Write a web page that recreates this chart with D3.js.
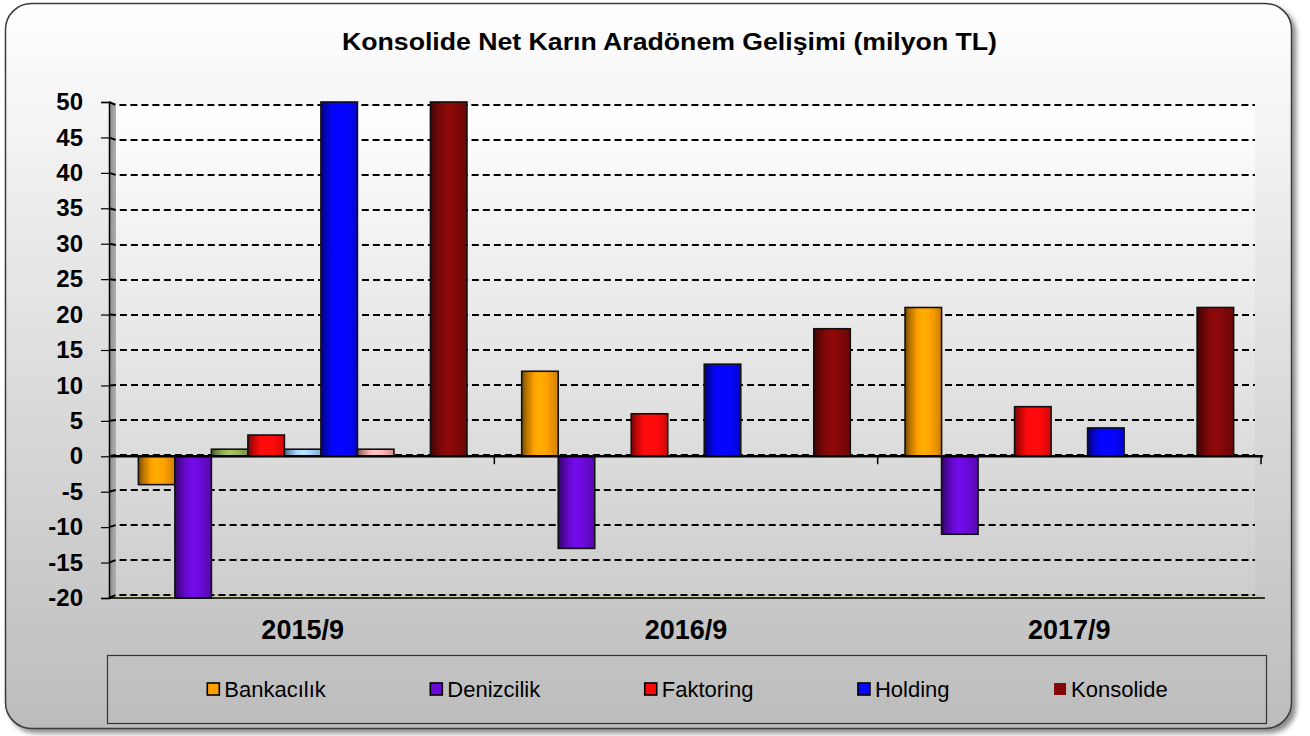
<!DOCTYPE html>
<html><head><meta charset="utf-8">
<script src="https://cdn.jsdelivr.net/npm/d3@7"></script>
<style>body{margin:0;background:#fff}svg{display:block}text{font-family:"Liberation Sans",Arial,sans-serif;fill:#000}</style>
</head><body><svg id="c" width="1310" height="736"></svg>
<script>
const categories = ["2015/9", "2016/9", "2017/9"];
const seriesNames = ["Bankacılık", "Denizcilik", "Seri 3", "Faktoring", "Seri 5", "Holding", "Seri 7", "Seri 8", "Konsolide"];
const bankacilik = [-4, 12, 21];
const denizcilik = [-20, -13, -11];
const seri3 = [1, null, null];
const faktoring = [3, 6, 7];
const seri5 = [1, null, null];
const holding = [50, 13, 4];
const seri7 = [1, null, null];
const seri8 = [null, null, null];
const konsolide = [50, 18, 21];
const seriesColors = ["#ffa000", "#6a0ad8", "#98b854", "#ff0a0a", "#a8d4ff", "#0505ff", "#ffb4b4", "#cccccc", "#840808"];
const legendSeries = ["Bankacılık", "Denizcilik", "Faktoring", "Holding", "Konsolide"];
const yTicks = [-20, -15, -10, -5, 0, 5, 10, 15, 20, 25, 30, 35, 40, 45, 50];
const chartTitle = "Konsolide Net Karın Aradönem Gelişimi (milyon TL)";

const seriesValues = [bankacilik, denizcilik, seri3, faktoring, seri5, holding, seri7, seri8, konsolide];

const svg = d3.select("#c");
const defs = svg.append("defs");

const bg = defs.append("linearGradient").attr("id", "bg").attr("x1", 0).attr("y1", 0).attr("x2", 0).attr("y2", 1);
bg.append("stop").attr("offset", "0%").attr("stop-color", "#ffffff");
bg.append("stop").attr("offset", "100%").attr("stop-color", "#bcbcbc");
const wall = defs.append("linearGradient").attr("id", "wall").attr("gradientUnits", "userSpaceOnUse")
  .attr("x1", 0).attr("y1", 102).attr("x2", 0).attr("y2", 598);
wall.append("stop").attr("offset", "0%").attr("stop-color", "#ffffff");
wall.append("stop").attr("offset", "100%").attr("stop-color", "#cdcdcd");
const lw = defs.append("linearGradient").attr("id", "lwall").attr("x1", 0).attr("y1", 0).attr("x2", 1).attr("y2", 0);
lw.append("stop").attr("offset", "0%").attr("stop-color", "#8a8a8a");
lw.append("stop").attr("offset", "100%").attr("stop-color", "#b0b0b0");

const sh = defs.append("filter").attr("id", "shadow").attr("x", "-5%").attr("y", "-5%").attr("width", "110%").attr("height", "110%");
sh.append("feDropShadow").attr("dx", 4).attr("dy", 4).attr("stdDeviation", 2.5).attr("flood-color", "#000").attr("flood-opacity", 0.45);

seriesColors.forEach((c, i) => {
  const g = defs.append("linearGradient").attr("id", "bar" + i).attr("x1", 0).attr("y1", 0).attr("x2", 1).attr("y2", 0);
  const base = d3.color(c);
  [[0, base.darker(2.2)], [0.14, base.darker(0.9)], [0.34, base], [0.5, base.brighter(0.25)], [0.7, base], [1, base.darker(0.6)]]
    .forEach(([o, col]) => g.append("stop").attr("offset", (o * 100) + "%").attr("stop-color", col.formatHex()));
});

svg.append("rect").attr("x", 5.5).attr("y", 3.5).attr("width", 1286).attr("height", 725)
  .attr("rx", 26).attr("ry", 26).attr("fill", "url(#bg)").attr("stroke", "#3a3a3a").attr("stroke-width", 1.5)
  .attr("filter", "url(#shadow)");

const x0 = d3.scaleBand().domain(categories).range([111, 1261]).paddingInner(0).paddingOuter(0);
const x1 = d3.scaleBand().domain(seriesNames).range([0, x0.bandwidth()]).paddingInner(0).paddingOuter(0.75);
const yF = d3.scaleLinear().domain([-20, 50]).range([598, 102]);
const yB = d3.scaleLinear().domain([-20, 50]).range([595, 105]);

const wallL = 116, wallR = 1255, axL = 109, axR = 1263;

svg.append("path").attr("d", `M${wallL},${yB(50)}L${wallR},${yB(50)}L${wallR},${yB(-20)}L${wallL},${yB(-20)}Z`).attr("fill", "url(#wall)");
svg.append("path").attr("d", `M${axL},${yF(50)}L${wallL},${yB(50)}L${wallL},${yB(-20)}L${axL},${yF(-20)}Z`).attr("fill", "url(#lwall)");
svg.append("path").attr("d", `M${axL},${yF(-20)}L${wallL},${yB(-20)}L${wallR},${yB(-20)}L${axR},${yF(-20)}Z`)
  .attr("fill", "#d6d4ae").attr("stroke", "#9a9878").attr("stroke-width", 0.5);

const grid = svg.append("g");
yTicks.forEach(t => {
  grid.append("path").attr("d", `M${axL},${yF(t)}L${wallL},${yB(t)}L${wallR},${yB(t)}`)
    .attr("fill", "none").attr("stroke", "#000").attr("stroke-width", 2)
    .attr("stroke-dasharray", "7,4");
});

const yAxis = d3.axisLeft(yF).tickValues(yTicks).tickSize(8).tickPadding(18).tickFormat(d => String(d));
const ya = svg.append("g").attr("transform", `translate(${axL},0)`).call(yAxis);
ya.select(".domain").attr("stroke", "#000").attr("stroke-width", 1.5);
ya.selectAll(".tick line").attr("stroke", "#000").attr("stroke-width", 1.2);
ya.selectAll(".tick text").attr("font-size", 24).attr("font-weight", "bold").attr("fill", "#000")
  .attr("font-family", '"Liberation Sans", Arial, sans-serif');

const barG = svg.append("g");
categories.forEach((cat, ci) => {
  seriesNames.forEach((s, si) => {
    const v = seriesValues[si][ci];
    if (v === null || v === undefined) return;
    const x = x0(cat) + x1(s);
    const y0 = yF(0), yv = yF(v);
    barG.append("rect").attr("x", x).attr("y", Math.min(y0, yv)).attr("width", x1.bandwidth())
      .attr("height", Math.abs(yv - y0)).attr("fill", `url(#bar${si})`)
      .attr("stroke", "#111").attr("stroke-width", 1.6);
  });
});

svg.append("line").attr("x1", axL).attr("x2", axR).attr("y1", yF(0)).attr("y2", yF(0))
  .attr("stroke", "#000").attr("stroke-width", 2.6);
const bounds = categories.map(c => x0(c)).concat([x0.range()[1]]);
bounds.forEach((bx, i) => {
  if (i === 0) return;
  svg.append("line").attr("x1", bx).attr("x2", bx).attr("y1", yF(0)).attr("y2", yF(0) + 8)
    .attr("stroke", "#000").attr("stroke-width", 1.5);
});
svg.append("line").attr("x1", axL).attr("x2", axR + 2).attr("y1", yF(-20)).attr("y2", yF(-20))
  .attr("stroke", "#000").attr("stroke-width", 1.6);

svg.append("g").selectAll("text").data(categories).join("text")
  .attr("x", d => x0(d) + x0.bandwidth() / 2).attr("y", 639)
  .attr("text-anchor", "middle").attr("font-size", 27).attr("font-weight", "bold").text(d => d);

svg.append("text").attr("x", 669.5).attr("y", 49.5).attr("text-anchor", "middle")
  .attr("font-size", 23).attr("font-weight", "bold")
  .attr("textLength", 655).attr("lengthAdjust", "spacingAndGlyphs").text(chartTitle);

svg.append("rect").attr("x", 107.5).attr("y", 655.5).attr("width", 1159).attr("height", 68)
  .attr("fill", "none").attr("stroke", "#333").attr("stroke-width", 1.2);
const lg = svg.append("g");
const items = legendSeries.map(name => {
  const g = lg.append("g");
  const si = seriesNames.indexOf(name);
  g.append("rect").attr("x", 0).attr("y", 683).attr("width", 12).attr("height", 12)
    .attr("fill", seriesColors[si]).attr("stroke", name === "Konsolide" ? "none" : "#000").attr("stroke-width", 1.6);
  const t = g.append("text").attr("x", 17).attr("y", 697).attr("font-size", 22).text(name);
  return { g, w: 17 + t.node().getComputedTextLength() };
});
const gap = 104.5;
const total = d3.sum(items, d => d.w) + gap * (items.length - 1);
let cx = 687.5 - total / 2;
items.forEach(it => { it.g.attr("transform", `translate(${cx},0)`); cx += it.w + gap; });
</script>
</body></html>
